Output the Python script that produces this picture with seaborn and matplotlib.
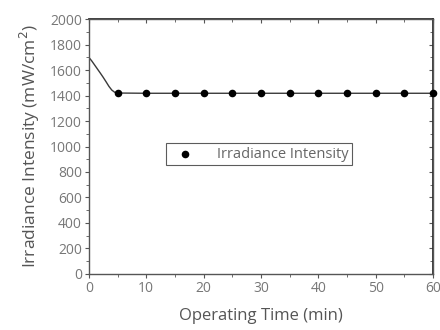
import matplotlib

matplotlib.use("Agg")
import matplotlib.pyplot as plt
import pandas as pd
import seaborn as sns
from matplotlib.ticker import MultipleLocator

# Measured points (markers) and the initial warm-up curve
time_pts = [5, 10, 15, 20, 25, 30, 35, 40, 45, 50, 55, 60]
irr_pts = [1420, 1418, 1418, 1418, 1418, 1418, 1418, 1418, 1418, 1418, 1418, 1418]
time_curve = [0, 0.5, 1, 1.5, 2, 2.5, 3, 3.5, 4, 4.5]
irr_curve = [1700, 1672, 1640, 1608, 1576, 1543, 1508, 1472, 1443, 1426]

x_ticks = [0, 10, 20, 30, 40, 50, 60]
y_ticks = [0, 200, 400, 600, 800, 1000, 1200, 1400, 1600, 1800, 2000]

sns.set_theme(style="ticks")
plt.rcParams["font.family"] = ["Open Sans", "DejaVu Sans"]

df_line = pd.DataFrame({"t": time_curve + time_pts,
                        "v": irr_curve + irr_pts})
df_pts = pd.DataFrame({"t": time_pts, "v": irr_pts})

fig = plt.figure(figsize=(4.4, 3.3), dpi=100)
ax = fig.add_axes([0.202, 0.170, 0.782, 0.772])

sns.lineplot(data=df_line, x="t", y="v", ax=ax, color="#3a3a3a",
             linewidth=1.0, sort=True, estimator=None)
sns.scatterplot(data=df_pts, x="t", y="v", ax=ax, color="black", s=30,
                edgecolor="black", linewidth=0, zorder=5,
                label="Irradiance Intensity", clip_on=False)

ax.set_xlim(0, 60)
ax.set_ylim(0, 2000)
ax.set_xticks(x_ticks)
ax.set_yticks(y_ticks)
ax.xaxis.set_minor_locator(MultipleLocator(5))
ax.yaxis.set_minor_locator(MultipleLocator(100))
ax.tick_params(which="both", direction="out", colors="#555555",
               labelcolor="#777777", labelsize=10, pad=2)
ax.tick_params(which="major", length=3, width=0.8)
ax.tick_params(which="minor", length=2, width=0.6)
for s in ax.spines.values():
    s.set_visible(True)
    s.set_color("#555555")
    s.set_linewidth(1.0)

# mirrored ticks on top/right pointing inward, no labels
top = ax.secondary_xaxis("top")
top.set_xticks(x_ticks)
top.xaxis.set_minor_locator(MultipleLocator(5))
top.tick_params(which="both", direction="in", labeltop=False,
                colors="#555555")
top.tick_params(which="major", length=3, width=0.8)
top.tick_params(which="minor", length=2, width=0.6)
right = ax.secondary_yaxis("right")
right.set_yticks(y_ticks)
right.yaxis.set_minor_locator(MultipleLocator(100))
right.tick_params(which="both", direction="in", labelright=False,
                  colors="#555555")
right.tick_params(which="major", length=3, width=0.8)
right.tick_params(which="minor", length=2, width=0.6)

ax.set_xlabel("Operating Time (min)", fontsize=12, color="#555555",
              labelpad=9)
ax.set_ylabel("Irradiance Intensity (mW/cm$^2$)", fontsize=12.5,
              color="#555555", labelpad=6)

leg = ax.legend(loc="center", bbox_to_anchor=(0.495, 0.47), fontsize=10.5,
                frameon=True, fancybox=False, handletextpad=1.2,
                borderpad=0.25, markerscale=1.0, borderaxespad=0)
leg.get_frame().set_edgecolor("#333333")
leg.get_frame().set_linewidth(0.8)
for t in leg.get_texts():
    t.set_color("#666666")

fig.savefig("out.png", dpi=100)
